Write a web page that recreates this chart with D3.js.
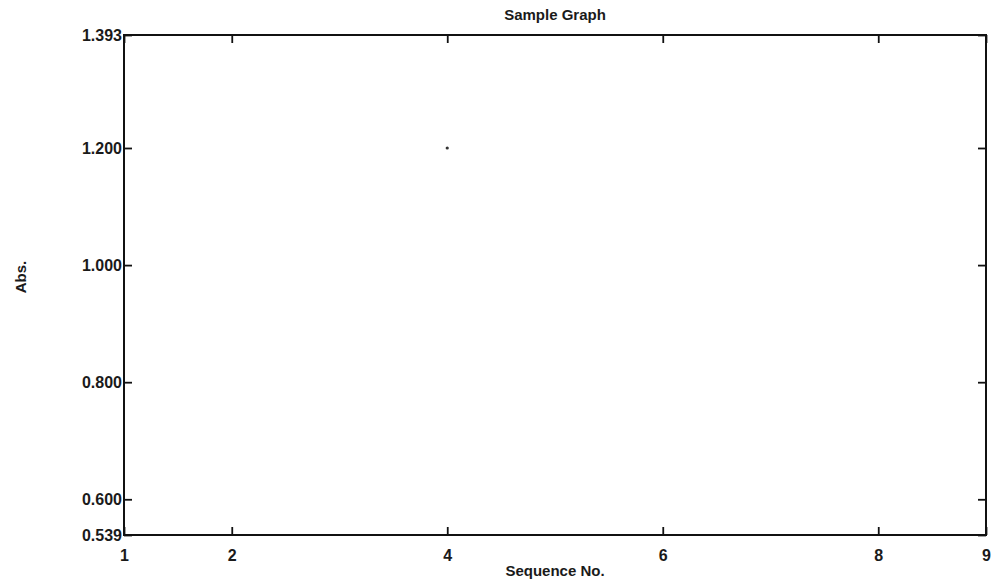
<!DOCTYPE html>
<html lang="en">
<head>
<meta charset="UTF-8">
<title>Sample Graph</title>
<style>
    body { margin: 0; background: #fff; }
    .axis text {
        font-family: "Liberation Sans", Arial, sans-serif;
        font-size: 16px;
        font-weight: bold;
        fill: #1a1a1a;
    }
    .axis line { stroke: #111; stroke-width: 1.8; }
    .lbl {
        font-family: "Liberation Sans", Arial, sans-serif;
        font-size: 15px;
        font-weight: bold;
        fill: #1a1a1a;
        text-anchor: middle;
    }
</style>
</head>
<body>
<div id="chart"></div>
<script src="https://d3js.org/d3.v7.min.js"></script>
<script>
var width = 993, height = 583;
var padding = { left: 124, right: 7, top: 35, bottom: 48 };

// data
var xTicks = [1, 2, 4, 6, 8, 9];
var yTicks = [0.539, 0.600, 0.800, 1.000, 1.200, 1.393];
var xDomain = [1, 9];
var yDomain = [0.539, 1.393];
var seqNo = [4];
var absValues = [1.2];

var svg = d3.select('#chart').append('svg')
    .attr('width', width).attr('height', height);

var xScale = d3.scaleLinear().domain(xDomain)
    .range([padding.left, width - padding.right]);
var yScale = d3.scaleLinear().domain(yDomain)
    .range([height - padding.bottom, padding.top]);

var tickLen = 8;

// bottom axis with labels
svg.append('g').attr('class', 'axis')
    .attr('transform', 'translate(0,' + (height - padding.bottom) + ')')
    .call(d3.axisBottom(xScale).tickValues(xTicks).tickFormat(d3.format('d'))
        .tickSizeInner(-tickLen).tickSizeOuter(0).tickPadding(15))
    .call(function(g) { g.select('.domain').remove(); });

// top axis ticks only
svg.append('g').attr('class', 'axis')
    .attr('transform', 'translate(0,' + padding.top + ')')
    .call(d3.axisTop(xScale).tickValues(xTicks).tickFormat('')
        .tickSizeInner(-tickLen).tickSizeOuter(0))
    .call(function(g) { g.select('.domain').remove(); });

// left axis with labels
svg.append('g').attr('class', 'axis')
    .attr('transform', 'translate(' + padding.left + ',0)')
    .call(d3.axisLeft(yScale).tickValues(yTicks).tickFormat(d3.format('.3f'))
        .tickSizeInner(-tickLen).tickSizeOuter(0).tickPadding(4))
    .call(function(g) {
        g.select('.domain').remove();
        g.selectAll('.tick line').attr('x1', 0).attr('x2', tickLen);
        g.selectAll('.tick text').attr('x', -2);
    });

// right axis ticks only
svg.append('g').attr('class', 'axis')
    .attr('transform', 'translate(' + (width - padding.right) + ',0)')
    .call(d3.axisRight(yScale).tickValues(yTicks).tickFormat('')
        .tickSizeInner(-tickLen).tickSizeOuter(0))
    .call(function(g) { g.select('.domain').remove(); });

// frame
svg.append('rect')
    .attr('x', xScale(xDomain[0])).attr('y', yScale(yDomain[1]))
    .attr('width', xScale(xDomain[1]) - xScale(xDomain[0]))
    .attr('height', yScale(yDomain[0]) - yScale(yDomain[1]))
    .attr('fill', 'none').attr('stroke', '#111').attr('stroke-width', 2);

// data point
svg.append('g').selectAll('circle')
    .data(seqNo).enter().append('circle')
    .attr('cx', function(d) { return xScale(d); })
    .attr('cy', function(d, i) { return yScale(absValues[i]); })
    .attr('r', 1.6)
    .attr('fill', '#333');

// title and axis labels
var cx = (xScale(xDomain[0]) + xScale(xDomain[1])) / 2;
var cy = (yScale(yDomain[0]) + yScale(yDomain[1])) / 2;
svg.append('text').attr('class', 'lbl')
    .attr('x', cx).attr('y', 20).text('Sample Graph');
svg.append('text').attr('class', 'lbl')
    .attr('x', cx).attr('y', 576).text('Sequence No.');
svg.append('text').attr('class', 'lbl')
    .attr('transform', 'translate(26,' + (cy - 8) + ') rotate(-90)')
    .text('Abs.');
</script>
</body>
</html>
